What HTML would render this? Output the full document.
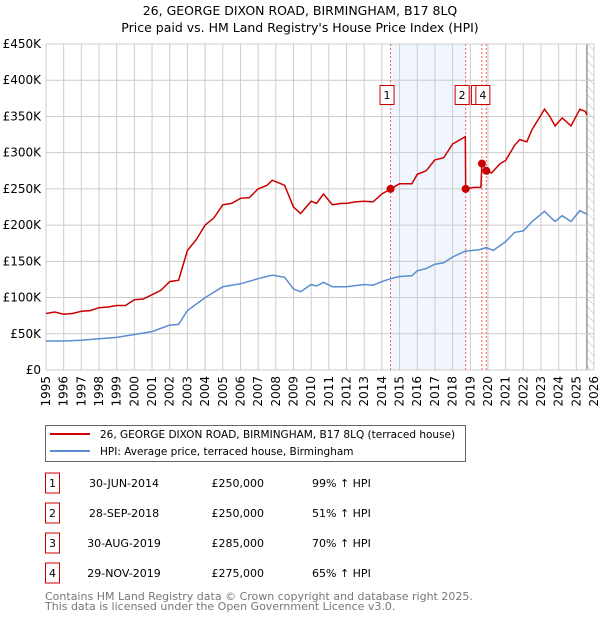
<!DOCTYPE html>
<html><head><meta charset="utf-8"><style>
body{margin:0;background:#fff;width:600px;height:620px;overflow:hidden;font-family:"DejaVu Sans","Liberation Sans",sans-serif}
</style></head><body>
<svg id="chart" width="600" height="620" xmlns="http://www.w3.org/2000/svg" font-family="DejaVu Sans, Liberation Sans, sans-serif">
<text x="300" y="15" text-anchor="middle" font-size="12.5">26, GEORGE DIXON ROAD, BIRMINGHAM, B17 8LQ</text>
<text x="300" y="32" text-anchor="middle" font-size="12.5">Price paid vs. HM Land Registry's House Price Index (HPI)</text>
<g id="plot"></g>
<g>
<rect x="45.5" y="425.5" width="420" height="36" fill="#fff" stroke="#666"/>
<line x1="50" y1="434" x2="90" y2="434" stroke="#cc0000" stroke-width="2"/>
<text x="100" y="438" font-size="10.5">26, GEORGE DIXON ROAD, BIRMINGHAM, B17 8LQ (terraced house)</text>
<line x1="50" y1="451" x2="90" y2="451" stroke="#5a8ed0" stroke-width="2"/>
<text x="100" y="455" font-size="10.5">HPI: Average price, terraced house, Birmingham</text>
</g>
<g id="table" font-size="11"></g>
<text x="45" y="600" font-size="11" fill="#777">Contains HM Land Registry data © Crown copyright and database right 2025.</text>
<text x="45" y="610" font-size="11" fill="#777">This data is licensed under the Open Government Licence v3.0.</text>
</svg>
<script>
const redX=[1995,1995.5,1996,1996.5,1997,1997.5,1998,1998.5,1999,1999.5,2000,2000.5,2001,2001.5,2002,2002.5,2003,2003.5,2004,2004.5,2005,2005.5,2006,2006.5,2007,2007.5,2007.8,2008.5,2009,2009.4,2010,2010.3,2010.7,2011.2,2011.7,2012,2012.5,2013,2013.5,2014,2014.49,2015,2015.7,2016,2016.5,2017,2017.5,2018,2018.72,2018.74,2019.2,2019.6,2019.66,2019.91,2020.2,2020.7,2021,2021.5,2021.8,2022.2,2022.5,2023,2023.2,2023.5,2023.8,2024.2,2024.7,2025.2,2025.5,2025.6];
const redY=[78,80,77,78,81,82,86,87,89,89,97,98,104,110,122,124,165,180,200,210,228,230,237,238,250,255,262,255,225,216,233,230,243,228,230,230,232,233,232,243,250,257,257,270,275,290,293,312,322,250,252,252,285,275,272,285,289,310,318,315,332,352,360,350,337,348,337,360,357,352];
const blueX=[1995,1996,1997,1998,1999,2000,2001,2002,2002.5,2003,2004,2005,2006,2007,2007.8,2008.5,2009,2009.4,2010,2010.3,2010.7,2011.2,2012,2013,2013.5,2014,2014.5,2015,2015.7,2016,2016.5,2017,2017.5,2018,2018.7,2019.5,2019.9,2020.3,2020.7,2021,2021.5,2022,2022.5,2023,2023.2,2023.5,2023.8,2024.2,2024.7,2025.2,2025.6];
const blueY=[40,40,41,43,45,49,53,62,63,82,100,115,119,126,131,128,112,108,118,116,121,115,115,118,117,122,126,129,130,137,140,146,148,156,164,166,169,165,172,177,190,192,205,215,219,212,205,213,205,220,215];
const saleLabels=["1","2","3","4"];
const saleX=[2014.49,2018.74,2019.66,2019.91];
const saleY=[250,250,285,275];
const saleDates=["30-JUN-2014","28-SEP-2018","30-AUG-2019","29-NOV-2019"];
const salePrices=["£250,000","£250,000","£285,000","£275,000"];
const salePct=["99% ↑ HPI","51% ↑ HPI","70% ↑ HPI","65% ↑ HPI"];
const yTicks=[0,50,100,150,200,250,300,350,400,450];
const yTickLabels=["£0","£50K","£100K","£150K","£200K","£250K","£300K","£350K","£400K","£450K"];
const years=[];for(let y=1995;y<=2026;y++)years.push(y);

const NS="http://www.w3.org/2000/svg";
const L=46,R=594,T=44,B=370;
const xs=v=>L+(v-1995)/(2026-1995)*(R-L);
const ys=v=>B-v/450*(B-T);
const g=document.getElementById('plot');
function mk(tag,attrs,parent){const e=document.createElementNS(NS,tag);for(const k in attrs)e.setAttribute(k,attrs[k]);(parent||g).appendChild(e);return e;}

const sh=mk('rect',{x:xs(saleX[0]),y:T,width:xs(saleX[1])-xs(saleX[0]),height:B-T,fill:'#eef3fc',opacity:0.8});


const defs=mk('defs',{});
const pat=mk('pattern',{id:'hatch',width:6,height:6,patternUnits:'userSpaceOnUse',patternTransform:'rotate(-45)'},defs);
mk('line',{x1:0,y1:0,x2:0,y2:6,stroke:'#bbb','stroke-width':1},pat);
const hx=xs(2025.6);
const ht=mk('rect',{x:hx,y:T,width:R-hx,height:B-T,fill:'url(#hatch)'});


mk('line',{x1:hx,y1:T,x2:hx,y2:B,stroke:'#666','stroke-width':1});

years.forEach((yr,i)=>{
  const x=xs(yr);
  const gl=mk('line',{x1:x,y1:T,x2:x,y2:B,stroke:'#ccc','stroke-width':1});
  
  
  const t=mk('text',{x:0,y:0,'font-size':12,'text-anchor':'end',transform:`translate(${x+4},${B+6}) rotate(-90)`});
  t.textContent=yr;
  
  
});
yTicks.forEach((v,i)=>{
  const y=ys(v);
  const gl=mk('line',{x1:L,y1:y,x2:R,y2:y,stroke:'#ccc','stroke-width':1});
  
  
  const t=mk('text',{x:L-5,y:y+4,'font-size':12,'text-anchor':'end'});
  t.textContent=yTickLabels[i];
  
  
});

saleX.forEach(v=>{
  const l=mk('line',{x1:xs(v),y1:T,x2:xs(v),y2:B,stroke:'#e66','stroke-width':1,'stroke-dasharray':'2,2'});
  
  
});

function pts(X,Y){return X.map((x,i)=>xs(x).toFixed(1)+','+ys(Y[i]).toFixed(1)).join(' ');}
const bl=mk('polyline',{points:pts(blueX,blueY),fill:'none',stroke:'#5a8ed0','stroke-width':1.5});


const rl=mk('polyline',{points:pts(redX,redY),fill:'none',stroke:'#cc0000','stroke-width':1.5});



saleX.forEach((v,i)=>{
  const c=mk('circle',{cx:xs(v),cy:ys(saleY[i]),r:4,fill:'#cc0000'});
  
  
});
saleX.forEach((v,i)=>{
  const bx=mk('rect',{x:xs(v)-10.5,y:85.5,width:14,height:19,fill:'#fff',stroke:'#cc0000'});
  
  
  const t=mk('text',{x:xs(v)-3.5,y:99,'font-size':11,'text-anchor':'middle'});
  t.textContent=saleLabels[i];
  
  
});

const tb=document.getElementById('table');
saleLabels.forEach((lab,i)=>{
  const cy=483+i*30;
  const r=mk('rect',{x:45.5,y:cy-10,width:14,height:20,fill:'#fff',stroke:'#cc0000'},tb);
  
  
  const t0=mk('text',{x:52.5,y:cy+4,'text-anchor':'middle'},tb);t0.textContent=lab;
  const t1=mk('text',{x:124,y:cy+4,'text-anchor':'middle'},tb);t1.textContent=saleDates[i];
  
  
  const t2=mk('text',{x:264,y:cy+4,'text-anchor':'end'},tb);t2.textContent=salePrices[i];
  
  
  const t3=mk('text',{x:312,y:cy+4},tb);t3.textContent=salePct[i];
  
  
});
</script>
</body></html>
